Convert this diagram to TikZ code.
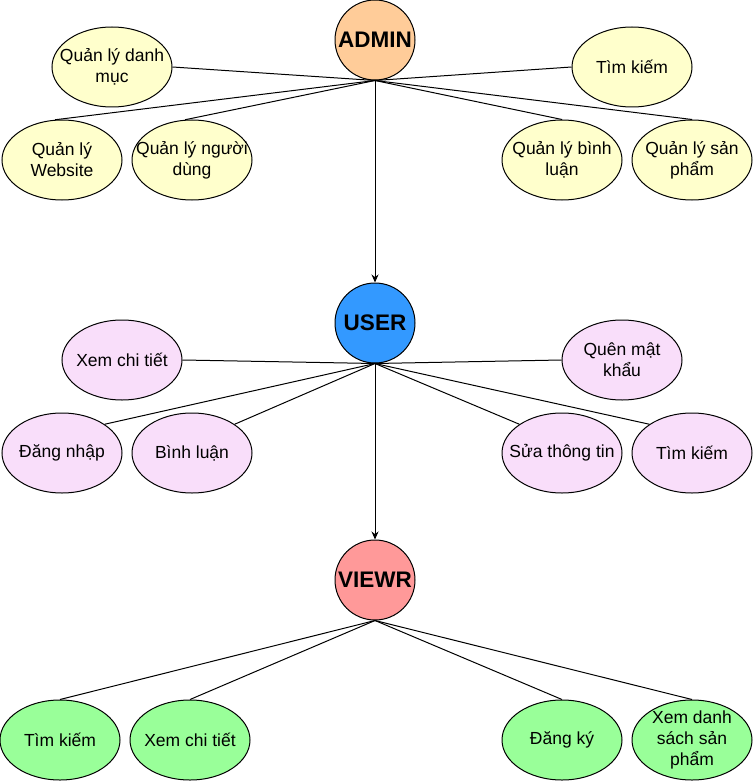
\documentclass[tikz,border=0pt]{standalone}
\usepackage{fontspec}
\setmainfont{Liberation Sans}
\usetikzlibrary{shapes.geometric,arrows.meta}

\definecolor{admincol}{HTML}{FFCC99}
\definecolor{usercol}{HTML}{3399FF}
\definecolor{viewcol}{HTML}{FF9999}
\definecolor{yellowcol}{HTML}{FFFFCC}
\definecolor{pinkcol}{HTML}{F9DEFA}
\definecolor{greencol}{HTML}{99FF99}

\tikzset{
  usecase/.style={ellipse, draw, line width=1pt, minimum width=120pt,
    minimum height=80pt, inner sep=0pt},
  uctext/.style={align=center, inner sep=0pt,
    font=\fontsize{17.5}{21}\selectfont},
  actor/.style={ellipse, draw, line width=1pt, minimum width=80pt,
    minimum height=80pt, inner sep=0pt},
  actortext/.style={inner sep=0pt, font=\fontsize{22.5}{26}\selectfont\bfseries},
  link/.style={line width=1pt},
  arr/.style={line width=1pt, -{Stealth[length=8pt,width=7pt]}}
}

\begin{document}
\begin{tikzpicture}[x=1pt,y=-1pt]
  \useasboundingbox (0,0) rectangle (753,781);
  % actors
  \node[actor, fill=admincol, label={[actortext]center:ADMIN}] (admin) at (375,40) {};
  \node[actor, fill=usercol, label={[actortext]center:USER}] (user) at (375,323) {};
  \node[actor, fill=viewcol, label={[actortext]center:VIEWR}] (viewr) at (375,580) {};
  % admin
  \node[usecase, fill=yellowcol, label={[uctext]center:{Quản lý danh\\mục}}] (a1) at (112,67) {};
  \node[usecase, fill=yellowcol, label={[uctext]center:{Tìm kiếm}}] (a2) at (632,67) {};
  \node[usecase, fill=yellowcol, label={[uctext]center:{Quản lý\\Website}}] (a3) at (62,160) {};
  \node[usecase, fill=yellowcol, label={[uctext]center:{Quản lý người\\dùng}}] (a4) at (192,160) {};
  \node[usecase, fill=yellowcol, label={[uctext]center:{Quản lý bình\\luận}}] (a5) at (562,160) {};
  \node[usecase, fill=yellowcol, label={[uctext]center:{Quản lý sản\\phẩm}}] (a6) at (692,160) {};
  % user
  \node[usecase, fill=pinkcol, label={[uctext]center:{Xem chi tiết}}] (u1) at (122,360) {};
  \node[usecase, fill=pinkcol, label={[uctext]center:{Quên mật\\khẩu}}] (u2) at (622,360) {};
  \node[usecase, fill=pinkcol, label={[uctext]center:{Đăng nhập}}] (u3) at (62,453) {};
  \node[usecase, fill=pinkcol, label={[uctext]center:{Bình luận}}] (u4) at (192,453) {};
  \node[usecase, fill=pinkcol, label={[uctext]center:{Sửa thông tin}}] (u5) at (562,453) {};
  \node[usecase, fill=pinkcol, label={[uctext]center:{Tìm kiếm}}] (u6) at (692,453) {};
  % viewr
  \node[usecase, fill=greencol, label={[uctext]center:{Tìm kiếm}}] (v1) at (60,740) {};
  \node[usecase, fill=greencol, label={[uctext]center:{Xem chi tiết}}] (v2) at (190,740) {};
  \node[usecase, fill=greencol, label={[uctext]center:{Đăng ký}}] (v3) at (562,740) {};
  \node[usecase, fill=greencol, label={[uctext]center:{Xem danh\\sách sản\\phẩm}}] (v4) at (692,740) {};

  \path[link] (admin.south) edge (a1.east)
              (admin.south) edge (a2.west)
              (admin.south) edge (a3.100)
              (admin.south) edge (a4.100)
              (admin.south) edge (a5.north)
              (admin.south) edge (a6.north)
              (user.south) edge (u1.east)
              (user.south) edge (u2.west)
              (user.south) edge (u3.34)
              (user.south) edge (u4.34)
              (user.south) edge (u5.146)
              (user.south) edge (u6.146)
              (viewr.south) edge (v1.north)
              (viewr.south) edge (v2.north)
              (viewr.south) edge (v3.north)
              (viewr.south) edge (v4.north)
              ;
  \draw[arr] (admin.south) -- (user.north);
  \draw[arr] (user.south) -- (viewr.north);
\end{tikzpicture}
\end{document}
